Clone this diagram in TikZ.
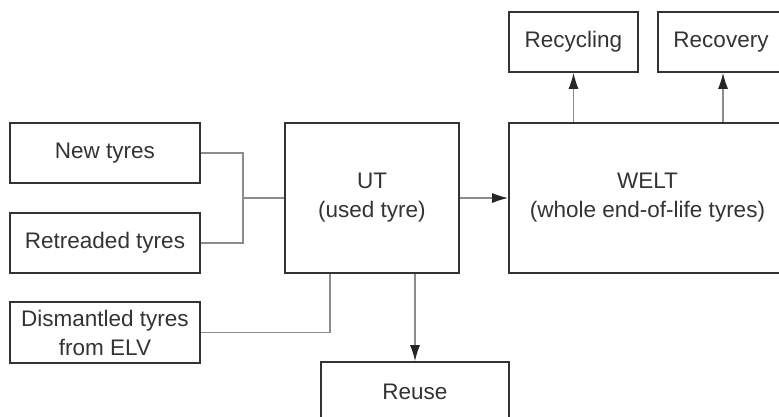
\documentclass[tikz,border=0pt]{standalone}
\usepackage{fontspec}
\setmainfont{Liberation Sans}
\usetikzlibrary{arrows.meta}
\definecolor{boxline}{HTML}{333333}
\definecolor{linkline}{HTML}{8C8C8C}
\tikzset{
    box/.style={draw=boxline,line width=1.6pt,text=boxline,align=center,inner sep=0pt,
        font=\fontsize{22.5}{29}\selectfont},
    link/.style={draw=linkline,line width=1.3pt},
    flow/.style={link,-{Latex[length=16pt,width=10pt,color=black!85]}}
}
\begin{document}
\begin{tikzpicture}[x=1pt,y=-1pt]
    \useasboundingbox (0,0) rectangle (779,416);
    \clip (0,0) rectangle (779,416);
    \node[box,minimum width=190pt,minimum height=60pt] (newt) at (105,153) {New tyres};
    \node[box,minimum width=190pt,minimum height=60pt] (retr) at (105,243) {Retreaded tyres};
    \node[box,minimum width=190pt,minimum height=61pt] (dism) at (105,332.5) {Dismantled tyres\\from ELV};
    \node[box,minimum width=174pt,minimum height=150pt] (ut) at (372,198) {UT\\(used tyre)};
    \node[box,minimum width=277pt,minimum height=150pt] (welt) at (647.5,198) {WELT\\(whole end-of-life tyres)};
    \node[box,minimum width=129pt,minimum height=60pt] (recyc) at (573.5,42) {Recycling};
    \node[box,minimum width=126pt,minimum height=60pt] (recov) at (721,42) {Recovery};
    \node[box,minimum width=188pt,minimum height=60pt] (reuse) at (415,392) {Reuse};
    \coordinate (join) at (243,198);
    \draw[link] (newt.east) -| (join) |- (retr.east);
    \draw[link] (join) -- (ut.west);
    \draw[link] (dism.east) -| (ut.south -| 330,0);
    \draw[flow] (ut.east) -- (welt.west);
    \draw[flow] (ut.south -| reuse.north) -- (reuse.north);
    \draw[flow] (welt.north -| recyc.south) -- (recyc.south);
    \draw[flow] (welt.north -| 723,0) -- (recov.south -| 723,0);
\end{tikzpicture}
\end{document}
